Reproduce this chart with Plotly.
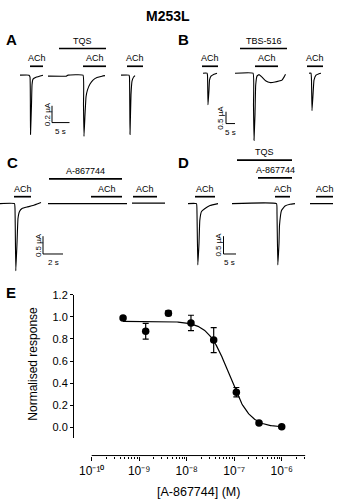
import numpy as np
import plotly.graph_objects as go

W, H = 341, 500
FONT = "Liberation Sans, Arial, sans-serif"

# ---------------- DATA ----------------
# Panel A (time s, current uA)
A1_t = [1.43, 4.0, 4.29, 4.43, 4.71, 4.86, 5.14, 6.0, 8.0]
A1_i = [0, 0, -0.024, -0.706, -0.353, -0.118, -0.047, -0.024, 0]
A2_t = [9.43, 14.57, 15.14, 19.43, 19.57, 19.71, 20.0, 20.29, 20.71, 21.43, 22.29, 23.43, 24.86, 25.71]
A2_i = [-0.012, -0.012, 0, 0, -0.353, -0.729, -0.471, -0.259, -0.176, -0.106, -0.059, -0.029, -0.012, -0.006]
A3_t = [30.29, 32.57, 32.71, 32.86, 33.14, 33.43, 33.86, 34.29]
A3_i = [0, 0, -0.024, -0.706, -0.235, -0.071, -0.024, -0.006]
A_bar_labels = ["ACh", "TQS", "ACh", "ACh"]
A_bar_start = [4.29, 12.57, 19.43, 32.0]
A_bar_end = [8.0, 26.0, 26.0, 36.57]
A_bar_row = [0, 1, 0, 0]

# Panel B
B1_t = [4.44, 6.67, 6.94, 7.22, 7.78, 8.06, 8.89, 10.56, 12.22]
B1_i = [0, 0, -0.083, -1.333, -0.708, -0.292, -0.125, -0.042, 0]
B2_t = [22.22, 32.22, 32.5, 32.78, 33.33, 33.72, 34.44, 35.56, 37.22, 39.44, 41.67, 44.44, 46.67, 48.33, 49.44, 50.28]
B2_i = [0, 0, -1.333, -2.833, -1.75, -0.5, -0.125, -0.0625, -0.167, -0.333, -0.396, -0.375, -0.333, -0.292, -0.167, -0.042]
B3_t = [63.33, 64.44, 64.72, 65.0, 65.56, 66.11, 67.22, 68.89, 70.0]
B3_i = [0, 0, -0.292, -1.583, -0.917, -0.292, -0.083, -0.021, 0]
B_bar_labels = ["ACh", "TBS-516", "ACh", "ACh"]
B_bar_start = [3.89, 25.0, 33.33, 62.22]
B_bar_end = [12.78, 51.11, 46.11, 71.11]
B_bar_row = [0, 1, 0, 0]

# Panel C
C1_t = [0, 1.45, 1.5, 1.58, 1.7, 1.8, 1.95, 2.2, 2.7, 3.3, 4.1]
C1_i = [0, 0, -0.139, -1.889, -1.111, -0.417, -0.222, -0.139, -0.097, -0.056, 0.028]
C2_t = [4.8, 12.7]
C2_i = [0, 0]
C3_t = [13.2, 16.5]
C3_i = [0.014, 0.014]
C_bar_labels = ["ACh", "A-867744", "ACh", "ACh"]
C_bar_start = [1.4, 4.9, 9.1, 13.3]
C_bar_end = [3.1, 12.2, 12.2, 15.7]
C_bar_row = [0, 1, 0, 0]

# Panel D
D1_t = [1.2, 4.6, 4.8, 5.12, 5.6, 5.92, 6.6, 8.0, 10.0, 13.2]
D1_i = [0, 0, -0.278, -1.722, -1.111, -0.472, -0.222, -0.139, -0.056, 0]
D2_t = [18.8, 36.6, 36.8, 37.12, 37.6, 37.8, 38.6, 40.0, 42.0, 44.0]
D2_i = [0, 0, -0.278, -1.722, -1.111, -0.611, -0.194, -0.069, -0.019, 0]
D3_t = [50.0, 59.2]
D3_i = [0, 0]
D_bar_labels = ["ACh", "TQS", "A-867744", "ACh", "ACh"]
D_bar_start = [4.0, 20.8, 29.2, 36.0, 52.4]
D_bar_end = [12.0, 42.8, 42.8, 42.0, 59.2]
D_bar_row = [0, 2, 1, 0, 0]

# Scale bars: (time length s, current uA, labels)
scale_time = {"A": 5, "B": 5, "C": 2, "D": 5}
scale_curr = {"A": 0.2, "B": 0.5, "C": 0.5, "D": 0.5}
scale_tlabel = {"A": "5 s", "B": "5 s", "C": "2 s", "D": "5 s"}
scale_ilabel = {"A": "0.2 µA", "B": "0.5 µA", "C": "0.5 µA", "D": "0.5 µA"}

# Panel E: concentration-response
conc = [4.57e-10, 1.37e-9, 4.12e-9, 1.23e-8, 3.70e-8, 1.11e-7, 3.33e-7, 1.0e-6]
resp = [0.989, 0.870, 1.034, 0.945, 0.790, 0.319, 0.039, 0.006]
sem = [0.0, 0.072, 0.022, 0.07, 0.113, 0.042, 0.0, 0.0]
fit_top, fit_bottom, fit_logic50, fit_hill = 0.96, 0.0, -7.11, 2.0
x_tickvals = [1e-10, 1e-9, 1e-8, 1e-7, 1e-6]
x_ticktext = ["10⁻¹⁰", "10⁻⁹", "10⁻⁸", "10⁻⁷", "10⁻⁶"]
y_tickvals = [0.0, 0.2, 0.4, 0.6, 0.8, 1.0, 1.2]

# ---------------- LAYOUT HELPERS ----------------
def px(x):
    return x / W

def py(y):
    return 1 - y / H

# panel geometry: box (L, R, T, B) in px, t=0 px, px per s, baseline px, px per uA
panels = {
    "A": dict(box=(0, 170, 20, 140), x0=15, pps=3.5, y0=70, ppu=85, ax=2,
              rows=[61, 43], scale_at=(52, 118)),
    "B": dict(box=(180, 341, 20, 140), x0=195, pps=1.8, y0=68, ppu=24, ax=3,
              rows=[61, 43], scale_at=(226, 119)),
    "C": dict(box=(0, 175, 140, 280), x0=0, pps=10, y0=200, ppu=36, ax=4,
              rows=[193, 175, 156], scale_at=(43, 251)),
    "D": dict(box=(180, 341, 140, 280), x0=185, pps=2.5, y0=200, ppu=36, ax=5,
              rows=[193, 174, 156], scale_at=(223.5, 251)),
}
sweeps = {
    "A": [(A1_t, A1_i), (A2_t, A2_i), (A3_t, A3_i)],
    "B": [(B1_t, B1_i), (B2_t, B2_i), (B3_t, B3_i)],
    "C": [(C1_t, C1_i), (C2_t, C2_i), (C3_t, C3_i)],
    "D": [(D1_t, D1_i), (D2_t, D2_i), (D3_t, D3_i)],
}
bars = {
    "A": (A_bar_labels, A_bar_start, A_bar_end, A_bar_row),
    "B": (B_bar_labels, B_bar_start, B_bar_end, B_bar_row),
    "C": (C_bar_labels, C_bar_start, C_bar_end, C_bar_row),
    "D": (D_bar_labels, D_bar_start, D_bar_end, D_bar_row),
}

fig = go.Figure()
shapes = []
annotations = []
layout_axes = {}

for name, p in panels.items():
    L, R, T, B = p["box"]
    n = p["ax"]
    xa, ya = f"x{n}", f"y{n}"
    layout_axes[f"xaxis{n}"] = dict(domain=[px(L), px(R)], anchor=ya, visible=False,
                                     range=[(L - p["x0"]) / p["pps"], (R - p["x0"]) / p["pps"]])
    layout_axes[f"yaxis{n}"] = dict(domain=[py(B), py(T)], anchor=xa, visible=False,
                                     range=[(p["y0"] - B) / p["ppu"], (p["y0"] - T) / p["ppu"]])
    for t, i in sweeps[name]:
        fig.add_trace(go.Scatter(x=t, y=i, xaxis=xa, yaxis=ya, mode="lines",
                                 line=dict(color="black", width=1.1, shape="spline", smoothing=0.3),
                                 showlegend=False, hoverinfo="skip"))
    labels, starts, ends, rows = bars[name]
    for lab, s, e, r in zip(labels, starts, ends, rows):
        ypx = p["rows"][r]
        shapes.append(dict(type="line", xref=xa, yref="paper", x0=s, x1=e,
                           y0=py(ypx), y1=py(ypx), line=dict(color="black", width=1.7)))
        annotations.append(dict(text=lab, xref=xa, yref="paper", x=(s + e) / 2, y=py(ypx - 8),
                                showarrow=False, xanchor="center", yanchor="middle",
                                font=dict(size=9, family=FONT, color="black")))
    # scale bar
    sx_px, sy_px = p["scale_at"]
    st0 = (sx_px - p["x0"]) / p["pps"]
    si0 = (p["y0"] - sy_px) / p["ppu"]
    st1 = st0 + scale_time[name]
    si1 = si0 + scale_curr[name]
    shapes.append(dict(type="path", xref=xa, yref=ya,
                       path=f"M {st0} {si1} L {st0} {si0} L {st1} {si0}",
                       line=dict(color="black", width=1)))
    annotations.append(dict(text=scale_ilabel[name], xref=xa, yref=ya, x=st0, y=(si0 + si1) / 2,
                            xshift=-5, showarrow=False, textangle=-90, xanchor="center",
                            yanchor="middle", font=dict(size=8, family=FONT, color="black")))
    annotations.append(dict(text=scale_tlabel[name], xref=xa, yref=ya, x=(st0 + st1) / 2, y=si0,
                            yshift=-9, showarrow=False, xanchor="center", yanchor="middle",
                            font=dict(size=8, family=FONT, color="black")))

# ---------------- PANEL E ----------------
fig.add_trace(go.Scatter(x=conc, y=resp, mode="markers",
                         marker=dict(color="black", size=7.5),
                         error_y=dict(type="data", array=sem, color="black", thickness=1.2, width=3),
                         showlegend=False, hoverinfo="skip"))
xfit = np.logspace(np.log10(conc[0]), np.log10(conc[-1]), 200)
yfit = fit_bottom + (fit_top - fit_bottom) / (1 + 10 ** (fit_hill * (np.log10(xfit) - fit_logic50)))
fig.add_trace(go.Scatter(x=xfit, y=yfit, mode="lines", line=dict(color="black", width=1.2),
                         showlegend=False, hoverinfo="skip"))

# x axis geometry: 10^-10 at 91.7 px, 47.5 px per decade, y axis line at 74 px
E_left, E_right, E_dec0, E_pxdec = 74.0, 305.4, 91.7, 47.5
x_lo = -10 - (E_dec0 - E_left) / E_pxdec
x_hi = -10 + (E_right - E_dec0) / E_pxdec
minor_vals = [k * 10.0 ** e for e in range(-10, -6) for k in range(2, 10)] + [2e-6, 3e-6]

layout_axes["xaxis"] = dict(type="log", range=[x_lo, x_hi], domain=[px(E_left), px(E_right)],
                            anchor="free", position=py(455), showline=False,
                            ticks="outside", ticklen=4, tickcolor="black",
                            tickvals=x_tickvals, ticktext=x_ticktext, showgrid=False, zeroline=False,
                            tickfont=dict(size=12, family=FONT, color="black"))
layout_axes["xaxis6"] = dict(type="log", range=[x_lo, x_hi], domain=[px(E_left), px(E_right)],
                             anchor="free", position=py(455), overlaying="x", showline=False,
                             ticks="outside", ticklen=2, tickcolor="black", tickvals=minor_vals,
                             showticklabels=False, showgrid=False, zeroline=False)
layout_axes["yaxis"] = dict(range=[-0.1, 1.2], domain=[py(437.7), py(292.3)], anchor="x",
                            showline=True, linecolor="black", linewidth=1,
                            ticks="outside", ticklen=3, tickcolor="black", tickvals=y_tickvals,
                            tickformat=".1f", showgrid=False, zeroline=False,
                            tickfont=dict(size=11, family=FONT, color="black"))
# visible x axis line from 10^-10 to the right end
shapes.append(dict(type="line", xref="x", yref="paper", x0=1e-10, x1=10 ** x_hi,
                   y0=py(455), y1=py(455), line=dict(color="black", width=1)))
# invisible trace to register xaxis6
fig.add_trace(go.Scatter(x=[1e-9], y=[0.5], xaxis="x6", yaxis="y", mode="markers",
                         marker=dict(opacity=0), showlegend=False, hoverinfo="skip"))

annotations.append(dict(text="Normalised response", xref="paper", yref="paper", x=px(33), y=py(362),
                        textangle=-90, showarrow=False, xanchor="center", yanchor="middle",
                        font=dict(size=12, family=FONT, color="black")))
annotations.append(dict(text="[A-867744] (M)", xref="paper", yref="paper", x=px(198), y=py(492),
                        showarrow=False, xanchor="center", yanchor="middle",
                        font=dict(size=12.5, family=FONT, color="black")))

# title and panel letters
annotations.append(dict(text="M253L", xref="paper", yref="paper", x=px(168), y=py(10),
                        showarrow=False, xanchor="center", yanchor="middle",
                        font=dict(size=14, family=FONT, color="black", weight="bold")))
for letter, (lx, ly) in {"A": (11, 34), "B": (183, 34), "C": (12, 158), "D": (183, 158),
                         "E": (10.5, 290)}.items():
    annotations.append(dict(text=letter, xref="paper", yref="paper", x=px(lx), y=py(ly),
                            showarrow=False, xanchor="center", yanchor="middle",
                            font=dict(size=15, family=FONT, color="black", weight="bold")))

fig.update_layout(width=W, height=H, margin=dict(l=0, r=0, t=0, b=0),
                  paper_bgcolor="white", plot_bgcolor="white",
                  shapes=shapes, annotations=annotations, **layout_axes)
fig.write_html("out.html", config={"displayModeBar": False})
